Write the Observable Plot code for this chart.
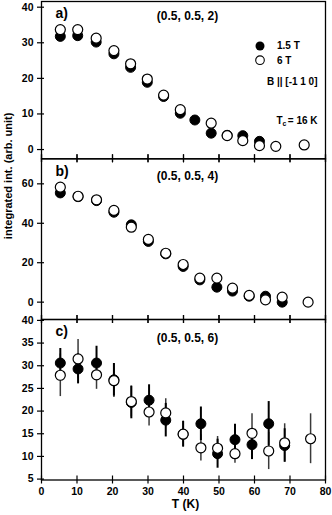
<!DOCTYPE html>
<html><head><meta charset="utf-8">
<script src="https://cdn.jsdelivr.net/npm/d3@7"></script>
<script src="https://cdn.jsdelivr.net/npm/@observablehq/plot@0.6"></script>
<style>
body{margin:0;background:#fff;}
#wrap{position:relative;width:332px;height:515px;}
#wrap svg{position:absolute;left:0;}
</style></head><body><div id="wrap"></div>
<script>
// ---- shared
const xTicks = [0, 10, 20, 30, 40, 50, 60, 70, 80];
const seriesNames = ["1.5 T", "6 T"];

// ---- panel a) (0.5, 0.5, 2)
const Ta = [5.3, 10.2, 15.4, 20.4, 25.1, 29.8, 34.4, 39.1, 43.2, 47.8, 52.3, 56.7, 61.4, 66.0, 74.0];
const a_15T = [31.8, 32.0, 30.2, 26.9, 23.1, 18.9, 14.9, 10.2, 8.3, 4.6, 4.0, 3.9, 2.3, null, null];
const a_6T  = [33.7, 33.7, 31.3, 27.8, 24.1, 19.8, 15.3, 11.2, null, 7.4, 3.9, 2.5, 1.1, 0.9, 1.3];
const a_yTicks = [0, 10, 20, 30, 40];

// ---- panel b) (0.5, 0.5, 4)
const Tb = [5.3, 10.3, 15.5, 20.4, 25.3, 30.1, 35.0, 39.9, 44.6, 49.4, 53.8, 58.5, 63.1, 67.8, 75.1];
const b_15T = [55.4, 53.5, 51.5, 45.6, 39.2, 30.8, 24.5, 18.1, 11.3, 7.6, 5.6, 3.0, 3.0, 0.0, null];
const b_6T  = [58.3, 53.7, 51.9, 46.5, 38.0, 31.8, 24.8, 19.1, 12.2, 12.2, 7.1, 3.4, 1.2, 2.5, 0.0];
const b_yTicks = [0, 20, 40, 60];

// ---- panel c) (0.5, 0.5, 6) with error bars
const Tc = [5.3, 10.3, 15.5, 20.4, 25.3, 30.3, 35.0, 39.9, 44.9, 49.6, 54.5, 59.3, 64.0, 68.5, 75.8];
const c_15T    = [30.6, 29.3, 30.6, 26.9, 21.9, 22.4, 18.0, 14.9, 17.2, 10.6, 13.7, 12.6, 17.2, 12.4, null];
const c_15Terr = [3.2, 3.3, 3.7, 3.6, 3.6, 3.4, 3.7, 2.8, 3.7, 3.2, 3.4, 3.3, 4.9, 3.7, null];
const c_6T     = [27.9, 31.5, 28.0, 26.7, 22.1, 19.8, 19.6, 14.9, 11.9, 11.8, 10.6, 15.1, 11.2, 13.0, 13.9];
const c_6Terr  = [4.7, 4.3, 3.2, 3.7, 3.4, 3.1, 3.1, 2.9, 2.9, 2.6, 2.1, 4.3, 4.1, 4.2, 5.5];
const c_yTicks = [5, 10, 15, 20, 25, 30, 35, 40];

const FONT = "'Liberation Sans', Arial, Helvetica, sans-serif";
const W = 332, ML = 41, MR = 7;
const PW = W - ML - MR;

function rows(T, v, e) {
  return T.map((t, i) => ({T: t, v: v[i], e: e ? e[i] : null})).filter(d => d.v != null);
}

function panel(o) {
  const PH = o.height - o.mt - o.mb;
  const r1 = rows(o.T, o.s1, o.e1), r2 = rows(o.T, o.s2, o.e2);
  const marks = [];
  if (o.e1) {
    marks.push(Plot.ruleX(r2, {x: "T", y1: d => d.v - d.e, y2: d => d.v + d.e, stroke: "#3a3a3a", strokeWidth: 1.5}));
    marks.push(Plot.ruleX(r1, {x: "T", y1: d => d.v - d.e, y2: d => d.v + d.e, stroke: "#000", strokeWidth: 2}));
  }
  marks.push(Plot.dot(r1, {x: "T", y: "v", r: 5, fill: "#000", stroke: "#000", strokeWidth: 1}));
  marks.push(Plot.dot(r2, {x: "T", y: "v", r: 5, fill: "#fff", stroke: "#000", strokeWidth: 1.2}));
  marks.push(Plot.frame({stroke: "#000", strokeWidth: 1.3}));
  marks.push(Plot.tickX(xTicks, {x: d => d, insetTop: PH - 4, insetBottom: -4, stroke: "#000", strokeWidth: 1.2}));
  if (o.topTicks) marks.push(Plot.tickX(xTicks, {x: d => d, insetTop: -4, insetBottom: PH - 4, stroke: "#000", strokeWidth: 1.2}));
  marks.push(Plot.tickY(o.yTicks, {y: d => d, insetLeft: -4, insetRight: PW - 3, stroke: "#000", strokeWidth: 1.2}));
  marks.push(Plot.axisY(o.yTicks, {tickSize: 0, tickPadding: 8, label: null, fontSize: 10.5, fontWeight: "bold"}));
  if (o.xLabels) {
    marks.push(Plot.axisX(xTicks, {tickSize: 0, tickPadding: 8, label: null, fontSize: 10.5, fontWeight: "bold"}));
    marks.push(Plot.text(["T (K)"], {frameAnchor: "bottom", dx: 2, dy: 27.5, fontSize: 12, fontWeight: "bold"}));
  }
  marks.push(Plot.text([o.tag], {frameAnchor: "top-left", textAnchor: "start", lineAnchor: "top", dx: 14, dy: 7, fontSize: 14, fontWeight: "bold"}));
  marks.push(Plot.text([o.hkl], {frameAnchor: "top", lineAnchor: "middle", dx: 4, dy: o.hklDy, fontSize: 12, fontWeight: "bold"}));
  if (o.legend) {
    marks.push(Plot.dot([seriesNames[0]], {frameAnchor: "top-right", dx: -65.5, dy: 44.5, r: 4.5, fill: "#000"}));
    marks.push(Plot.dot([seriesNames[1]], {frameAnchor: "top-right", dx: -65.5, dy: 58.7, r: 4.3, fill: "#fff", stroke: "#000", strokeWidth: 1.1}));
    marks.push(Plot.text([seriesNames[0]], {frameAnchor: "top-right", textAnchor: "start", lineAnchor: "middle", dx: -48.5, dy: 44.7, fontSize: 10, fontWeight: "bold"}));
    marks.push(Plot.text([seriesNames[1]], {frameAnchor: "top-right", textAnchor: "start", lineAnchor: "middle", dx: -48.5, dy: 59, fontSize: 10, fontWeight: "bold"}));
    marks.push(Plot.text(["B || [-1 1 0]"], {frameAnchor: "top-right", textAnchor: "end", lineAnchor: "middle", dx: -8, dy: 80.7, fontSize: 10, fontWeight: "bold"}));
    marks.push(Plot.text(["= 16 K"], {frameAnchor: "top-right", textAnchor: "end", lineAnchor: "middle", dx: -8, dy: 119.7, fontSize: 10, fontWeight: "bold"}));
    marks.push(Plot.text(["c"], {frameAnchor: "top-right", textAnchor: "end", lineAnchor: "middle", dx: -39, dy: 122, fontSize: 7, fontWeight: "bold"}));
    marks.push(Plot.text(["T"], {frameAnchor: "top-right", textAnchor: "end", lineAnchor: "middle", dx: -43, dy: 119.7, fontSize: 10, fontWeight: "bold"}));
  }
  if (o.yLabel) {
    marks.push(Plot.text([o.yLabel], {frameAnchor: "left", rotate: -90, dx: -33, dy: 0, fontSize: 11, fontWeight: "bold"}));
  }
  const svg = Plot.plot({
    width: W, height: o.height,
    marginLeft: ML, marginRight: MR, marginTop: o.mt, marginBottom: o.mb,
    style: {background: "transparent", overflow: "visible", fontFamily: FONT, color: "#000"},
    x: {domain: [0, 80], axis: null},
    y: {domain: o.yDomain, axis: null},
    marks
  });
  svg.style.top = o.top + "px";
  return svg;
}

const wrap = document.getElementById("wrap");
wrap.appendChild(panel({top: 0, height: 163.3, mt: 1, mb: 5, T: Ta, s1: a_15T, s2: a_6T,
  yDomain: [-2.6, 41.6], yTicks: a_yTicks, tag: "a)", hkl: "(0.5, 0.5, 2)", hklDy: 15, legend: true}));
wrap.appendChild(panel({top: 153, height: 171, mt: 5.3, mb: 5, T: Tb, s1: b_15T, s2: b_6T,
  yDomain: [-8.8, 72.7], yTicks: b_yTicks, tag: "b)", hkl: "(0.5, 0.5, 4)", hklDy: 17.5, topTicks: true,
  yLabel: "integrated int. (arb. unit)"}));
wrap.appendChild(panel({top: 314, height: 201, mt: 5, mb: 35.5, T: Tc, s1: c_15T, s2: c_6T, e1: c_15Terr, e2: c_6Terr,
  yDomain: [4.8, 40.2], yTicks: c_yTicks, tag: "c)", hkl: "(0.5, 0.5, 6)", hklDy: 18.5, topTicks: true, xLabels: true}));
</script></body></html>
